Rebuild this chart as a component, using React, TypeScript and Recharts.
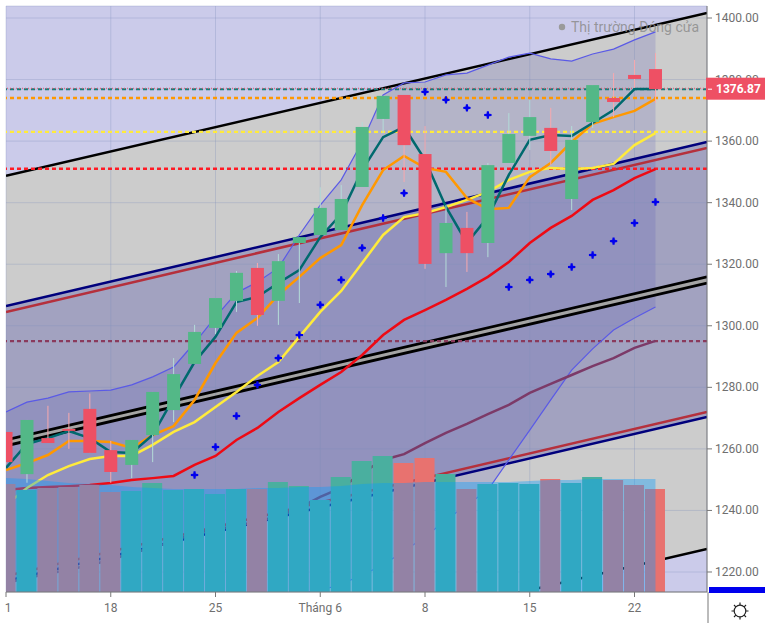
import React from "react";
import { ComposedChart, Area, Bar, Line, XAxis, YAxis, CartesianGrid, ReferenceLine, Cell } from "recharts";

const opens = [1265.5,1251.8,1263.5,1266.5,1273,1259.6,1254.8,1264.5,1272.6,1287.6,1299.3,1308.1,1318.8,1308.1,1326.9,1329.5,1331.1,1345.1,1367.2,1375,1355.8,1323.6,1331.8,1326.9,1352.9,1361.7,1364.3,1341.2,1366.2,1374,1381.5,1383.4];
const closes = [1255.7,1269.4,1261.9,1266,1258.7,1252.5,1262.9,1278.5,1284.3,1298,1309,1317.2,1303.5,1321,1328.8,1338.3,1341.2,1364.6,1374.7,1358.7,1320.1,1333.4,1323.6,1352.2,1362.3,1367.8,1356.8,1360.4,1378.2,1372.7,1380.2,1376.87];
const highs = [1265.5,1269.4,1274,1271.7,1278,1262.6,1262.9,1278.5,1289.5,1300.3,1309,1317.8,1320.4,1323.3,1328.8,1345,1345.7,1366.2,1374.7,1375,1364.9,1339.2,1337,1352.9,1369.1,1373.4,1370.8,1364.9,1378.2,1382.1,1386.4,1388.6];
const lows = [1255,1249,1261.9,1260,1258.7,1249,1250.5,1255.7,1268.7,1287.6,1297.3,1304.5,1300,1300.3,1307.4,1329.5,1331.1,1345.1,1362.6,1346.7,1318.5,1312.6,1317.5,1322.3,1352.9,1357.1,1352.2,1337.6,1364.3,1367.8,1377.3,1372.4];
const volumes = [108,102,104,105,107,100,101,109,102,103,98,103,103,110,106,92,115,131,136,129,134,118,103,108,109,108,113,109,115,112,107,103];
const volumeAvg = [114,113,111,109,108,107,105,104,103,103,103,103,104,104,105,105,106,108,109,109,110,110,110,110,110,111,112,112,113,113,113,113];
const bbUpper = [1272,1275.2,1276.5,1278.5,1278.8,1279.1,1280.8,1283.4,1286.6,1294.4,1302.9,1310.7,1314.2,1318.8,1329.5,1339.2,1347.4,1359.7,1375,1378.9,1379.2,1381.5,1382.1,1384.7,1387.3,1388.6,1386.7,1386,1388.3,1389.9,1392.9,1395.5];
const bbLower = [1212,1212,1212,1212,1212,1212,1212,1212,1212,1212,1212,1212,1212,1213,1213,1214,1216,1219,1222.3,1226.8,1231.4,1236.9,1241.8,1246.6,1256.4,1266.1,1275.9,1285.6,1292.5,1298.6,1302.5,1306.1];
const maTeal = [1253.8,1261.6,1263.5,1265.8,1263.5,1259,1258.7,1264.5,1276.5,1288.2,1296.4,1307.7,1309.4,1313.9,1318.1,1328.8,1336.3,1350.6,1361.3,1364.6,1353.9,1338.6,1326.9,1335.3,1349,1360.4,1362,1361.7,1365.9,1370.1,1376.9,1376.9];
const maOrange = [1253.1,1255.4,1258,1262.6,1262.6,1262.2,1260.3,1264.5,1267.4,1275.9,1287.9,1297.7,1302.5,1310,1315.9,1322,1326.2,1339.2,1350.6,1355.2,1351.3,1350,1341.5,1337.9,1338.3,1348.3,1352.9,1359.7,1365.6,1367.8,1369.8,1373.7];
const maYellow = [1241.8,1247.3,1251.5,1254.4,1256.7,1257.7,1257.7,1261.3,1265.5,1268.7,1273.6,1278.5,1283.7,1288.2,1296.4,1304.5,1311.3,1320.4,1329.5,1335.3,1336.6,1338.6,1340.9,1343.5,1347.4,1350,1351.3,1350.9,1351.3,1352.6,1358.7,1362.6];
const maRed = [1246.6,1247.3,1247.6,1247.9,1248.3,1248.9,1249.9,1250.5,1251.2,1254.8,1257.7,1262.9,1266.8,1272,1276.5,1280.8,1285,1290.5,1297,1301.9,1305.1,1308.4,1312,1315.9,1320.7,1326.9,1331.8,1335.7,1340.9,1344.1,1348,1350.9];
const maBrown = [1216.4,1218,1219.4,1220.7,1222.3,1223.9,1226.2,1227.8,1230.1,1232.7,1233.7,1235,1236.3,1238.2,1240.8,1244.4,1247.3,1252.2,1256.4,1258.3,1261.9,1265.2,1268.1,1271.3,1274.3,1278.2,1281.1,1284,1286.9,1289.5,1292.8,1295.1];
const sar = [null,null,null,null,null,null,null,null,null,1251.5,1260.6,1270.7,1280.8,1289.5,1297,1306.8,1314.9,1325.3,1335,1343.1,1376,1373.4,1370.8,1368.5,1312.6,1314.9,1316.8,1319.1,1323,1327.5,1333.4,1340.2];

const X_END = 33.46;
const channelX = [0, X_END];
const blackTop = [1348.7, 1401.6];
const blackBottom = [1174.5, 1227.5];
const navyTop = [1306.4, 1359.7];
const brickTop = [1304.5, 1357.8];
const navyLow = [1217.1, 1270.4];
const brickLow = [1218.7, 1272];
const midA = [1262.9, 1315.9];
const midB = [1261, 1313.9];

const xTicks = [0, 5, 10, 15, 20, 25, 30];
const xLabels = ["1", "18", "25", "Tháng 6", "8", "15", "22"];
const lastPrice = 1376.87;
const yTicks = [1220, 1240, 1260, 1280, 1300, 1320, 1340, 1360, 1380, 1400, lastPrice];
const levels = [
  { v: 1374, c: "#ff9800" },
  { v: 1363, c: "#ffeb3b" },
  { v: 1351, c: "#ff1a24" },
  { v: 1295, c: "#8a3a5c" },
];

const rows = opens.map((open, i) => ({
  x: i,
  open,
  close: closes[i],
  candle: [lows[i], highs[i]],
  vol: volumes[i],
  volAvg: volumeAvg[i],
  bb: [bbLower[i], bbUpper[i]],
  bbUpper: bbUpper[i],
  bbLower: bbLower[i],
  teal: maTeal[i],
  orange: maOrange[i],
  yellow: maYellow[i],
  red: maRed[i],
  brown: maBrown[i],
  sar: sar[i],
}));

const pair = (a: number[]) => channelX.map((x, i) => ({ x, v: a[i] }));
const band = (lo: number[], hi: number[]) => channelX.map((x, i) => ({ x, r: [lo[i], hi[i]] }));

const GREEN = "#53b887";
const RED = "#ee5064";

const Candle = (p: any) => {
  const { x, y, width, height, payload } = p;
  const [lo, hi] = payload.candle;
  const k = height / (hi - lo || 1);
  const up = payload.close >= payload.open;
  const top = y + (hi - Math.max(payload.open, payload.close)) * k;
  const h = Math.max(Math.abs(payload.close - payload.open) * k, 2);
  const cx = x + width / 2;
  return (
    <g>
      <line x1={cx} x2={cx} y1={y} y2={y + height} stroke={up ? "#b4dcd8" : "#f8a9ae"} strokeWidth={1} />
      <rect x={x} y={top} width={width} height={h} fill={up ? GREEN : RED} />
    </g>
  );
};

const SarDot = (p: any) => {
  const { cx, cy, value, index } = p;
  if (value == null || cy == null) return <g key={index} />;
  return (
    <path
      key={index}
      transform={`translate(${cx},${cy}) scale(0.82)`}
      d="M-1.2,-4.5 L1.2,-4.5 L1.6,-1.6 L4.5,-1.2 L4.5,1.2 L1.6,1.6 L1.2,4.5 L-1.2,4.5 L-1.6,1.6 L-4.5,1.2 L-4.5,-1.2 L-1.6,-1.6 Z"
      fill="#0000ee"
    />
  );
};

const XTick = (p: any) => {
  const i = xTicks.indexOf(p.payload.value);
  return (
    <text x={p.x + (i === 0 ? 2 : 0)} y={p.y + 13} textAnchor="middle" fontSize={12} fontFamily="Roboto" fill="#6f6f6f">
      {xLabels[i]}
    </text>
  );
};

const YTick = (p: any) => {
  const v = p.payload.value;
  if (v === lastPrice) {
    return (
      <g>
        <rect x={p.x - 8} y={p.y - 11.5} width={60} height={22} fill={RED} />
        <line x1={p.x - 6} x2={p.x - 2} y1={p.y} y2={p.y} stroke="#ffffff" />
        <text x={p.x + 2} y={p.y + 4} fontSize={12} fontWeight={700} fontFamily="Roboto" fill="#ffffff">
          {v.toFixed(2)}
        </text>
      </g>
    );
  }
  return (
    <text x={p.x + 1} y={p.y + 4} fontSize={12} fontFamily="Roboto" fill="#6f6f6f">
      {v.toFixed(2)}
    </text>
  );
};

const noDot = { dot: false, activeDot: false, isAnimationActive: false, legendType: "none" as const };

export default function App() {
  return (
    <div style={{ position: "absolute", left: 0, top: 0, width: 765, height: 623, background: "#fff", overflow: "hidden" }}>
      <ComposedChart
        width={765}
        height={623}
        data={rows}
        margin={{ left: 6, top: 6, right: 0, bottom: 0 }}
        style={{ position: "absolute", left: 0, top: 0 }}
      >
        <XAxis
          dataKey="x"
          type="number"
          domain={[0, X_END]}
          ticks={xTicks}
          allowDataOverflow
          height={31}
          stroke="#787878"
          tick={<XTick />}
          tickSize={5}
          interval={0}
        />
        <XAxis xAxisId="vx" dataKey="x" type="number" domain={[0, X_END]} allowDataOverflow hide />
        <YAxis
          yAxisId="p"
          orientation="right"
          type="number"
          domain={[1213.5, 1403.9]}
          ticks={yTicks}
          allowDataOverflow
          width={58}
          stroke="#787878"
          tick={<YTick />}
          tickSize={5}
          interval={0}
        />
        <YAxis yAxisId="v" hide type="number" domain={[0, 586]} allowDataOverflow />

        <Area yAxisId="p" data={[{ x: 0, r: [1213.5, 1403.9] }, { x: X_END, r: [1213.5, 1403.9] }]} dataKey="r" fill="#cbcbea" fillOpacity={1} stroke="none" zIndex={1} {...noDot} />
        <Area yAxisId="p" data={band(blackBottom, blackTop)} dataKey="r" fill="#cccccc" fillOpacity={1} stroke="none" zIndex={2} {...noDot} />
        <Area yAxisId="p" data={band(navyLow, navyTop)} dataKey="r" fill="#6464af" fillOpacity={0.4} stroke="none" zIndex={3} {...noDot} />
        <Area yAxisId="p" dataKey="bb" fill="#5454b9" fillOpacity={0.2} stroke="none" zIndex={4} {...noDot} />
        <Area yAxisId="p" data={band(midB, midA)} dataKey="r" fill="#a4a4a4" fillOpacity={1} stroke="none" zIndex={5} {...noDot} />

        <CartesianGrid yAxisId="p" stroke="#7f8fb8" strokeOpacity={0.3} zIndex={6} />

        <Line yAxisId="p" data={pair(blackBottom)} dataKey="v" stroke="#000" strokeWidth={2.5} zIndex={10} {...noDot} />
        <Line yAxisId="p" data={pair(blackTop)} dataKey="v" stroke="#000" strokeWidth={2.5} zIndex={10} {...noDot} />
        <Line yAxisId="p" data={pair(midA)} dataKey="v" stroke="#000" strokeWidth={2.8} zIndex={10} {...noDot} />
        <Line yAxisId="p" data={pair(midB)} dataKey="v" stroke="#000" strokeWidth={2.8} zIndex={10} {...noDot} />
        <Line yAxisId="p" data={pair(brickTop)} dataKey="v" stroke="#b5303c" strokeWidth={2.5} zIndex={10} {...noDot} />
        <Line yAxisId="p" data={pair(navyTop)} dataKey="v" stroke="#00007c" strokeWidth={2.5} zIndex={11} {...noDot} />
        <Line yAxisId="p" data={pair(brickLow)} dataKey="v" stroke="#b5303c" strokeWidth={2.5} zIndex={10} {...noDot} />
        <Line yAxisId="p" data={pair(navyLow)} dataKey="v" stroke="#00007c" strokeWidth={2.5} zIndex={11} {...noDot} />

        {levels.map((l) => (
          <ReferenceLine key={l.v} yAxisId="p" y={l.v} stroke={l.c} strokeWidth={2.4} strokeDasharray="4 3" zIndex={12} />
        ))}
        <ReferenceLine yAxisId="p" y={lastPrice} stroke="#1e7a78" strokeWidth={2} strokeDasharray="4 3" zIndex={12} />
        <ReferenceLine yAxisId="p" y={lastPrice + 0.3} stroke="#ee5064" strokeWidth={1} strokeDasharray="1 2" zIndex={12} />

        <Line yAxisId="p" dataKey="bbUpper" stroke="#5a5ae6" strokeWidth={1.2} zIndex={13} {...noDot} />
        <Line yAxisId="p" dataKey="bbLower" stroke="#5a5ae6" strokeWidth={1.2} zIndex={13} {...noDot} />
        <Line yAxisId="p" dataKey="brown" stroke="#7c3a68" strokeWidth={2.5} zIndex={13} {...noDot} />
        <Line yAxisId="p" dataKey="red" stroke="#ee0a14" strokeWidth={2.5} zIndex={14} {...noDot} />
        <Line yAxisId="p" dataKey="yellow" stroke="#ffeb3b" strokeWidth={2.5} zIndex={14} {...noDot} />
        <Line yAxisId="p" dataKey="orange" stroke="#ff9800" strokeWidth={2.5} zIndex={14} {...noDot} />
        <Line yAxisId="p" dataKey="teal" stroke="#00696e" strokeWidth={2.5} zIndex={14} {...noDot} />

        <Bar xAxisId="vx" yAxisId="v" dataKey="vol" barSize={20} isAnimationActive={false} zIndex={20}>
          {rows.map((r) => (
            <Cell key={r.x} fill={r.close >= r.open ? "#4aaf9f" : "#e8726f"} />
          ))}
        </Bar>
        <Area yAxisId="v" dataKey="volAvg" fill="#099eff" fillOpacity={0.38} stroke="none" zIndex={21} {...noDot} />

        <Bar yAxisId="p" dataKey="candle" barSize={13} shape={<Candle />} isAnimationActive={false} zIndex={22} />
        <Line yAxisId="p" dataKey="sar" stroke="none" connectNulls={false} dot={<SarDot />} activeDot={false} isAnimationActive={false} zIndex={23} />
      </ComposedChart>

      <svg width={765} height={623} style={{ position: "absolute", left: 0, top: 0, pointerEvents: "none" }}>
        <circle cx={562} cy={27} r={3.2} fill="#9a9a9a" />
        <text x={571} y={32} fontSize={14} fontFamily="Roboto" fill="#8c8c8c" fillOpacity={0.85}>
          Thị trường Đóng cửa
        </text>
        <line x1={708} x2={708} y1={592} y2={623} stroke="#787878" strokeWidth={1} />
        <rect x={709} y={587} width={56} height={6} fill="#0000ee" />
        <g fill="none" stroke="#222" strokeWidth={1.2}>
          <circle cx={740} cy={611} r={5.8} />
          <path d="M740,602.5v2.5M740,617v2.5M731.5,611h2.5M746,611h2.5M734,605l1.8,1.8M744.2,615.2l1.8,1.8M746,605l-1.8,1.8M735.8,615.2l-1.8,1.8" />
        </g>
      </svg>
    </div>
  );
}
